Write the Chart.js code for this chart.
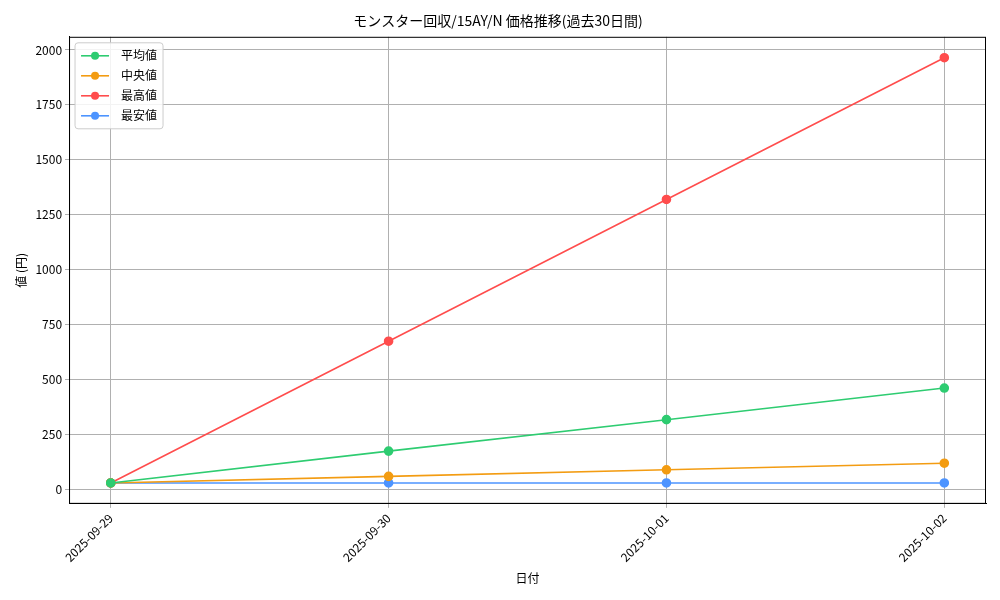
<!DOCTYPE html>
<html><head><meta charset="utf-8">
<script src="https://cdn.jsdelivr.net/npm/chart.js@4/dist/chart.umd.min.js"></script>
<style>html,body{margin:0;background:#fff}#w{width:1000px;height:600px}</style>
</head><body><div id="w"><canvas id="c"></canvas></div>
<script>
const dates=["2025-09-29","2025-09-30","2025-10-01","2025-10-02"];
const avgVals=[30,175,318,462];
const medVals=[30,60,90,120];
const maxVals=[30,675,1320,1965];
const minVals=[30,30,30,30];
const seriesNames=["平均値","中央値","最高値","最安値"];
const colors=["#2ecc71","#f39c12","#ff4d4d","#4d94ff"];
const F="'Noto Sans CJK JP', sans-serif";
const mk=(v,i)=>({label:seriesNames[i],data:v.map((y,x)=>({x,y})),borderColor:colors[i],backgroundColor:colors[i],pointRadius:4,pointHoverRadius:4,borderWidth:1.6,tension:0});
const legendPlugin={id:'lg',afterDraw(ch){const c=ch.ctx,a=ch.chartArea;
c.save();c.strokeStyle='#000';c.lineWidth=1;c.strokeRect(a.left+0.5,a.top+0.5,a.right-a.left-1,a.bottom-a.top-1);
const x0=a.left+6,y0=a.top+6,h=20;
c.fillStyle='rgba(255,255,255,0.85)';c.strokeStyle='#ccc';
c.beginPath();c.roundRect(x0,y0,88,h*4+6,3);c.fill();c.stroke();
c.font="12px "+F;c.textBaseline='middle';
seriesNames.forEach((n,i)=>{const y=y0+13+i*h;c.strokeStyle=colors[i];c.lineWidth=1.6;c.beginPath();c.moveTo(x0+6,y);c.lineTo(x0+34,y);c.stroke();
c.fillStyle=colors[i];c.beginPath();c.arc(x0+20,y,4,0,7);c.fill();c.fillStyle='#000';c.fillText(n,x0+46,y);});c.restore();}};
new Chart(document.getElementById('c'),{type:'line',
data:{datasets:[mk(avgVals,0),mk(medVals,1),mk(maxVals,2),mk(minVals,3)]},
options:{responsive:true,maintainAspectRatio:false,animation:false,
layout:{padding:{left:10,right:14,top:4,bottom:10}},
plugins:{legend:{display:false},tooltip:{enabled:false},
title:{display:true,text:'モンスター回収/15AY/N 価格推移(過去30日間)',color:'#000',font:{family:F,size:14,weight:'normal'},padding:{top:8,bottom:8}}},
scales:{
x:{type:'linear',min:-0.15,max:3.15,afterBuildTicks(s){s.ticks=dates.map((d,i)=>({value:i}));},
ticks:{callback:(v)=>dates[v],maxRotation:45,minRotation:45,color:'#000',font:{family:F,size:12}},
grid:{color:'#b0b0b0',drawTicks:true,tickLength:4},border:{color:'#000'},
title:{display:true,text:'日付',color:'#000',font:{family:F,size:12}}},
y:{min:-65,max:2060,afterBuildTicks(s){s.ticks=[0,250,500,750,1000,1250,1500,1750,2000].map(v=>({value:v}));},
ticks:{callback:(v)=>String(v),color:'#000',font:{family:F,size:12}},
grid:{color:'#b0b0b0',tickLength:4},border:{color:'#000'},
title:{display:true,text:'値 (円)',color:'#000',font:{family:F,size:12}}}}},
plugins:[legendPlugin]});
</script></body></html>
